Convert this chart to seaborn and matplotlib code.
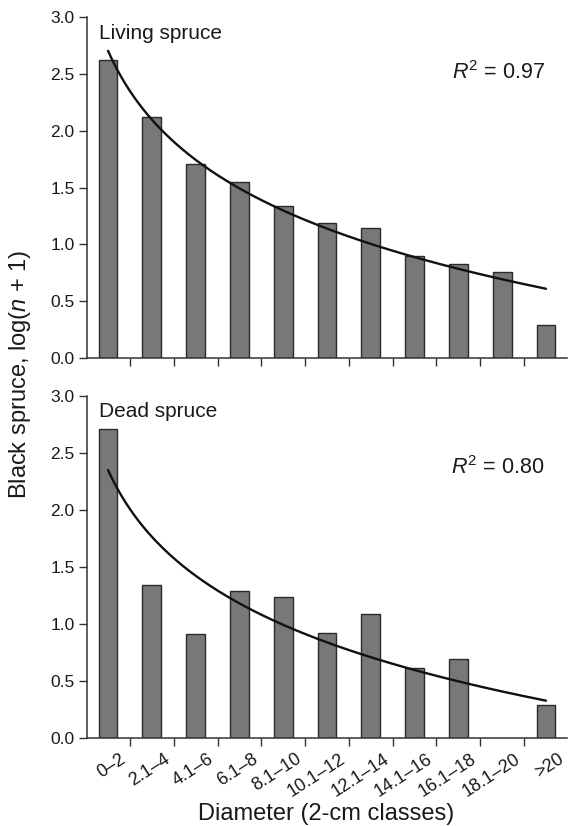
import numpy as np
import pandas as pd
import matplotlib
matplotlib.use("Agg")
import matplotlib.pyplot as plt
from matplotlib.ticker import FixedLocator, NullFormatter
from matplotlib.transforms import ScaledTranslation
import seaborn as sns

# ---- data ----
categories = ['0–2', '2.1–4', '4.1–6', '6.1–8', '8.1–10', '10.1–12',
              '12.1–14', '14.1–16', '16.1–18', '18.1–20', '>20']
living = [2.62, 2.12, 1.71, 1.55, 1.34, 1.19, 1.14, 0.90, 0.83, 0.76, 0.29]
dead = [2.71, 1.34, 0.91, 1.29, 1.24, 0.92, 1.09, 0.61, 0.69, 0.0, 0.29]
panel_titles = ['Living spruce', 'Dead spruce']
r2_labels = ['0.97', '0.80']
yticks = [0.0, 0.5, 1.0, 1.5, 2.0, 2.5, 3.0]

sns.set_style('ticks')
plt.rcParams['font.family'] = ['Liberation Sans', 'DejaVu Sans']
plt.rcParams['mathtext.fontset'] = 'custom'
plt.rcParams['mathtext.rm'] = 'Liberation Sans'
plt.rcParams['mathtext.it'] = 'Liberation Sans:italic'

TXT = '#1a1a1a'
SPINE = '#333333'
BAR = '#787878'
EDGE = '#2a2a2a'

fig = plt.figure(figsize=(5.70, 8.26), dpi=100)
ax_top = fig.add_axes([87/570, 1 - 358/826, 480/570, 341/826])
ax_bot = fig.add_axes([87/570, 1 - 738/826, 480/570, 342/826])

def draw(ax, values, title, r2, show_labels, title_y, r2_y):
    vals = [np.nan if v == 0 else v for v in values]
    df = pd.DataFrame({'cls': categories, 'val': vals})
    sns.barplot(data=df, x='cls', y='val', ax=ax, color=BAR, saturation=1,
                width=0.43, edgecolor=EDGE, linewidth=1.0, errorbar=None)
    # logarithmic regression fit y = a + b ln(x)
    xs = np.arange(1, len(values) + 1)
    b, a = np.polyfit(np.log(xs), np.array(values), 1)
    xf = np.linspace(1, len(values), 200)
    yf = a + b * np.log(xf)
    sns.lineplot(x=xf - 1, y=yf, ax=ax, color='#111111', linewidth=1.7,
                 sort=False)
    ax.set_xlim(-0.48, len(values) - 1 + 0.48)
    ax.set_ylim(0, 3.0)
    ax.set_yticks(yticks)
    ax.set_yticklabels([f'{t:.1f}' for t in yticks])
    ax.set_xlabel('')
    ax.set_ylabel('')
    for s in ['top', 'right']:
        ax.spines[s].set_visible(False)
    for s in ['left', 'bottom']:
        ax.spines[s].set_color(SPINE)
        ax.spines[s].set_linewidth(1.1)
    ax.tick_params(axis='y', direction='out', length=5.5, width=1.0,
                   color=SPINE, labelcolor=TXT, labelsize=12.5, pad=3.5)
    ax.tick_params(axis='x', which='major', length=0, pad=9,
                   labelcolor=TXT, labelsize=13)
    ax.xaxis.set_minor_locator(FixedLocator(np.arange(0.5, len(values) - 1, 1.0)))
    ax.xaxis.set_minor_formatter(NullFormatter())
    ax.tick_params(axis='x', which='minor', direction='out', length=5.5,
                   width=1.0, color=SPINE)
    ax.set_xticks(range(len(categories)))
    if show_labels:
        ax.set_xticklabels(categories)
        off = ScaledTranslation(0.12, 0, fig.dpi_scale_trans)
        for lab in ax.get_xticklabels():
            lab.set_rotation(33)
            lab.set_ha('right')
            lab.set_va('top')
            lab.set_rotation_mode('anchor')
            lab.set_transform(lab.get_transform() + off)
    else:
        ax.set_xticklabels([])
    ax.text(0.025, title_y, title, transform=ax.transAxes, ha='left',
            va='center', fontsize=15, color=TXT)
    ax.text(0.954, r2_y, r'$\mathit{R}^{2}$ = ' + r2, transform=ax.transAxes,
            ha='right', va='center', fontsize=15.5, color=TXT)

draw(ax_top, living, panel_titles[0], r2_labels[0], False, 0.953, 0.836)
draw(ax_bot, dead, panel_titles[1], r2_labels[1], True, 0.956, 0.79)

fig.text(20/570, 1 - 374/826, r'Black spruce, log($\mathit{n}$ + 1)',
         rotation=90, ha='center', va='center', fontsize=17, color=TXT)
fig.text(326/570, 1 - 814/826, 'Diameter (2-cm classes)', ha='center',
         va='center', fontsize=17, color=TXT)

fig.savefig('out.png', dpi=100, facecolor='white')
